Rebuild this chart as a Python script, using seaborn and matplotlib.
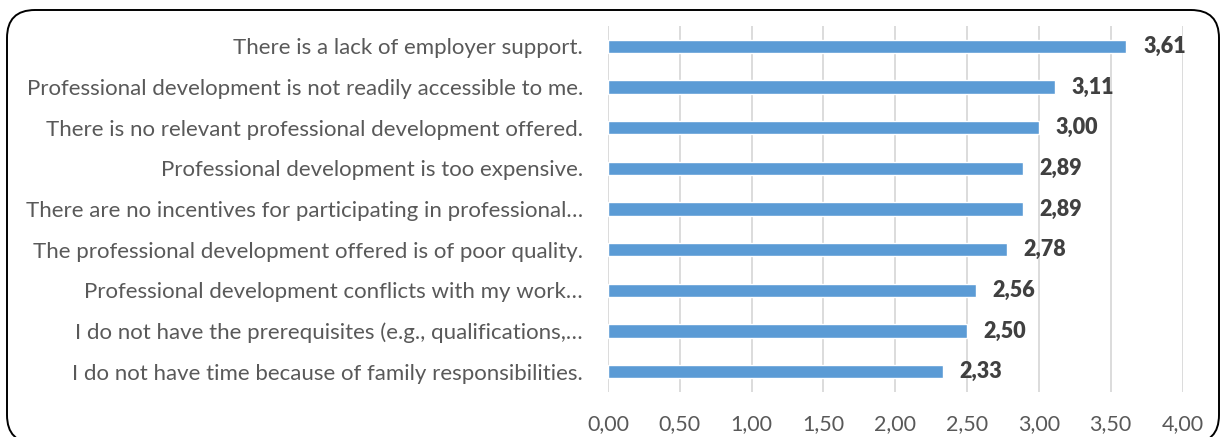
import matplotlib
matplotlib.use("Agg")
import matplotlib.pyplot as plt
from matplotlib.patches import FancyBboxPatch
from matplotlib.ticker import FuncFormatter
import seaborn as sns
import pandas as pd

# Barriers to professional development and their mean ratings
barriers = [
    "There is a lack of employer support.",
    "Professional development is not readily accessible to me.",
    "There is no relevant professional development offered.",
    "Professional development is too expensive.",
    "There are no incentives for participating in professional…",
    "The professional development offered is of poor quality.",
    "Professional development conflicts with my work…",
    "I do not have the prerequisites (e.g., qualifications,…",
    "I do not have time because of family responsibilities.",
]
mean_scores = [3.61, 3.11, 3.00, 2.89, 2.89, 2.78, 2.56, 2.50, 2.33]
x_ticks = [0.0, 0.5, 1.0, 1.5, 2.0, 2.5, 3.0, 3.5, 4.0]

df = pd.DataFrame({"barrier": barriers, "score": mean_scores})

sns.set_theme(style="white")
plt.rcParams["font.family"] = ["Lato", "DejaVu Sans"]

BAR = "#5B9BD5"
LABEL = "#595959"
VALUE = "#404040"
GRID = "#D9D9D9"


def comma(v, _pos=None):
    return f"{v:.2f}".replace(".", ",")


fig = plt.figure(figsize=(12.2, 4.37), dpi=100)
ax = fig.add_axes([608 / 1220, 1 - 392 / 437, (1182.5 - 608) / 1220, (392 - 26) / 437])

sns.barplot(data=df, y="barrier", x="score", orient="h", color=BAR,
            width=0.33, saturation=1, ax=ax)

ax.set_xlim(0, 4)
ax.set_ylim(len(barriers) - 0.5, -0.5)
ax.set_xticks(x_ticks)
ax.xaxis.set_major_formatter(FuncFormatter(comma))
ax.set_xlabel("")
ax.set_ylabel("")
ax.grid(axis="x", color=GRID, linewidth=1.3)
ax.grid(axis="y", visible=False)
ax.set_axisbelow(True)
for s in ax.spines.values():
    s.set_visible(False)
ax.tick_params(axis="x", length=0, pad=16, labelsize=15.5, labelcolor=LABEL)
ax.tick_params(axis="y", length=0, pad=18, labelsize=16, labelcolor=LABEL)

for i, v in enumerate(mean_scores):
    ax.text(v + 0.115, i, comma(v), va="center", ha="left",
            fontsize=15.5, fontweight="heavy", color=VALUE)

# rounded frame around the whole chart
frame = FancyBboxPatch((0.07, -0.06), 12.12, 4.33,
                       boxstyle="round,pad=0,rounding_size=0.28",
                       transform=fig.dpi_scale_trans, fill=False,
                       edgecolor="black", linewidth=1.4, clip_on=False)
fig.add_artist(frame)

fig.savefig("out.png", dpi=100, facecolor="white")
